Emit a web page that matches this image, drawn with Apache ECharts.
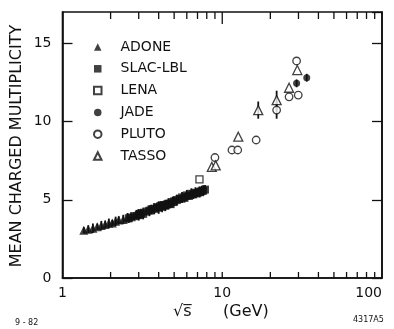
<!DOCTYPE html>
<html><head><meta charset="utf-8">
<script src="https://cdn.jsdelivr.net/npm/echarts@6/dist/echarts.min.js"></script>
<style>html,body{margin:0;padding:0;background:#fff}#c{width:394px;height:329px}</style>
</head><body><div id="c"></div>
<script>
// ---- data ----
const seriesNames = ['ADONE', 'SLAC-LBL', 'LENA', 'JADE', 'PLUTO', 'TASSO'];

const adoneX = [1.36, 1.45, 1.55, 1.65, 1.75, 1.85, 1.95, 2.05, 2.15, 2.25, 2.40, 2.55, 2.70, 2.90, 3.00];
const adoneY = [3.05, 3.12, 3.18, 3.28, 3.35, 3.42, 3.50, 3.52, 3.62, 3.70, 3.74, 3.85, 3.92, 4.05, 4.10];
const adoneErr = [0.2, 0.25, 0.3, 0.2, 0.3, 0.25, 0.3, 0.2, 0.3, 0.25, 0.3, 0.3, 0.25, 0.3, 0.3];

const slacX = [2.6, 2.8, 3.0, 3.1, 3.2, 3.35, 3.5, 3.6, 3.75, 3.9, 4.0, 4.1, 4.2, 4.3, 4.4, 4.5, 4.6, 4.75, 4.9, 5.0, 5.2, 5.4, 5.6, 5.8, 6.0, 6.2, 6.4, 6.6, 6.8, 7.0, 7.2, 7.4, 7.6, 7.8];
const slacY = [3.82, 3.95, 4.02, 4.12, 4.10, 4.25, 4.30, 4.38, 4.42, 4.52, 4.50, 4.60, 4.55, 4.66, 4.62, 4.70, 4.75, 4.72, 4.85, 4.90, 4.98, 5.05, 5.15, 5.12, 5.28, 5.25, 5.38, 5.35, 5.45, 5.42, 5.50, 5.55, 5.58, 5.65];
const slacErr = [0.3, 0.25, 0.35, 0.3, 0.35, 0.25, 0.35, 0.3, 0.35, 0.25, 0.4, 0.3, 0.35, 0.25, 0.35, 0.3, 0.35, 0.25, 0.35, 0.3, 0.35, 0.25, 0.35, 0.3, 0.35, 0.25, 0.35, 0.3, 0.35, 0.25, 0.35, 0.3, 0.35, 0.3];

const lenaX = [7.2];
const lenaY = [6.3];

const jadeX = [29.2, 33.8];
const jadeY = [12.44, 12.8];
const jadeErr = [0.25, 0.25];

const plutoX = [9.0, 11.5, 12.5, 16.3, 21.9, 26.2, 29.9, 29.2];
const plutoY = [7.7, 8.18, 8.18, 8.82, 10.73, 11.58, 11.69, 13.87];
const plutoErr = [0, 0, 0, 0, 0.55, 0, 0, 0];

const tassoX = [8.6, 9.1, 12.6, 16.8, 21.9, 26.2, 29.5];
const tassoY = [7.1, 7.2, 9.03, 10.73, 11.37, 12.16, 13.29];
const tassoErr = [0, 0, 0, 0.55, 0.6, 0, 0];

const xTickValues = [2, 3, 4, 5, 6, 7, 8, 9, 10, 20, 30, 40, 50, 60, 70, 80, 90];
const xMajorTicks = [10];
const yMin = 0, yMax = 17, yStep = 5;
const xMin = 1, xMax = 100;

// ---- chart ----
const FONT = 'DejaVu Sans';
const INK = '#111';
const pts = (xs, ys) => xs.map((x, i) => [x, ys[i]]);
const errPts = (xs, ys, es) => xs.map((x, i) => [x, ys[i], es[i]]).filter(d => d[2] > 0);

function errItem(params, api) {
  const x = api.value(0), y = api.value(1), e = api.value(2);
  const a = api.coord([x, y + e]), b = api.coord([x, y - e]);
  return { type: 'line', shape: { x1: a[0], y1: a[1], x2: b[0], y2: b[1] },
           style: { stroke: INK, lineWidth: 1.8 } };
}
function tickItem(params, api) {
  const v = api.value(0);
  const major = xMajorTicks.indexOf(v) >= 0;
  const b = api.coord([v, yMin]), t = api.coord([v, yMax]);
  const st = { stroke: INK, lineWidth: 1.3 };
  return { type: 'group', children: [
    { type: 'line', shape: { x1: b[0], y1: b[1], x2: b[0], y2: b[1] - 6 }, style: st },
    { type: 'line', shape: { x1: t[0], y1: t[1], x2: t[0], y2: t[1] + (major ? 12 : 7) }, style: st }
  ] };
}

const openStyle = { color: '#fff', borderColor: INK, borderWidth: 1.3 };
const fillStyle = { color: INK };

const chart = echarts.init(document.getElementById('c'), null, { renderer: 'canvas' });
chart.setOption({
  animation: false,
  backgroundColor: '#fff',
  grid: { left: 62.5, right: 12, top: 12, bottom: 51, show: true, borderColor: INK, borderWidth: 1.6, backgroundColor: 'transparent' },
  xAxis: {
    type: 'log', logBase: 10, min: xMin, max: xMax,
    axisLine: { lineStyle: { color: INK, width: 1.6 } },
    axisTick: { show: false },
    splitLine: { show: false },
    minorTick: { show: false },
    axisLabel: { color: INK, fontFamily: FONT, fontSize: 14, margin: 8, alignMaxLabel: 'right', formatter: v => String(v) }
  },
  yAxis: [{
    type: 'value', min: yMin, max: yMax, interval: yStep,
    axisLine: { show: true, lineStyle: { color: INK, width: 1.6 } },
    axisTick: { show: true, inside: true, length: 10, lineStyle: { color: INK, width: 1.3 } },
    splitLine: { show: false },
    axisLabel: { color: INK, fontFamily: FONT, fontSize: 14, margin: 11, showMaxLabel: false }
  }, {
    type: 'value', min: yMin, max: yMax, interval: yStep, position: 'right',
    axisLine: { show: true, lineStyle: { color: INK, width: 1.6 } },
    axisTick: { show: true, inside: true, length: 10, lineStyle: { color: INK, width: 1.3 } },
    splitLine: { show: false },
    axisLabel: { show: false }
  }],
  legend: {
    orient: 'vertical', left: 93, top: 40, padding: 0, itemWidth: 7.5, itemHeight: 7.5, itemGap: 7.8,
    data: seriesNames,
    textStyle: { color: INK, fontFamily: FONT, fontSize: 14, padding: [0, 0, 0, 14] }
  },
  graphic: [
    { type: 'text', x: 17, y: 146, rotation: Math.PI / 2,
      style: { text: 'MEAN CHARGED MULTIPLICITY', font: '16px "DejaVu Sans"', fill: INK, align: 'center', verticalAlign: 'middle' } },
    { type: 'text', x: 173, y: 312,
      style: { text: '\u221As\u0305', font: '16px "DejaVu Sans"', fill: INK, align: 'left', verticalAlign: 'middle' } },
    { type: 'text', x: 223, y: 312,
      style: { text: '(GeV)', font: '16px "DejaVu Sans"', fill: INK, align: 'left', verticalAlign: 'middle' } },
    { type: 'text', x: 15, y: 323,
      style: { text: '9 - 82', font: '8px "DejaVu Sans"', fill: INK, align: 'left', verticalAlign: 'middle' } },
    { type: 'text', x: 353, y: 320,
      style: { text: '4317A5', font: '8px "DejaVu Sans"', fill: INK, align: 'left', verticalAlign: 'middle' } }
  ],
  series: [
    { type: 'custom', name: 'ticks', renderItem: tickItem, data: xTickValues.map(v => [v, yMin]), silent: true, z: 1, clip: false },
    { type: 'custom', name: 'errs', renderItem: errItem, silent: true, z: 2,
      data: [].concat(errPts(adoneX, adoneY, adoneErr), errPts(slacX, slacY, slacErr),
                      errPts(plutoX, plutoY, plutoErr), errPts(tassoX, tassoY, tassoErr), errPts(jadeX, jadeY, jadeErr)) },
    { type: 'scatter', name: 'ADONE', symbol: 'triangle', symbolSize: 9, itemStyle: fillStyle, data: pts(adoneX, adoneY), z: 3 },
    { type: 'scatter', name: 'SLAC-LBL', symbol: 'rect', symbolSize: 8, itemStyle: fillStyle, data: pts(slacX, slacY), z: 3 },
    { type: 'scatter', name: 'LENA', symbol: 'rect', symbolSize: 7, itemStyle: openStyle, data: pts(lenaX, lenaY), z: 4 },
    { type: 'scatter', name: 'JADE', symbol: 'circle', symbolSize: 7, itemStyle: fillStyle, data: pts(jadeX, jadeY), z: 4 },
    { type: 'scatter', name: 'PLUTO', symbol: 'circle', symbolSize: 7.5, itemStyle: openStyle, data: pts(plutoX, plutoY), z: 4 },
    { type: 'scatter', name: 'TASSO', symbol: 'triangle', symbolSize: 9, itemStyle: openStyle, data: pts(tassoX, tassoY), z: 4 }
  ]
});
</script></body></html>
